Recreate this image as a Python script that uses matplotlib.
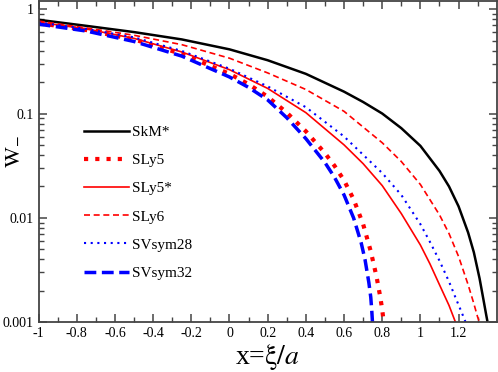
import numpy as np, matplotlib
matplotlib.use("Agg"); import matplotlib.pyplot as plt
from matplotlib.ticker import FixedLocator, LogLocator, NullFormatter

plt.rcParams['font.family'] = ['Liberation Serif', 'DejaVu Serif']
plt.rcParams['mathtext.fontset'] = 'stix'
plt.rcParams['axes.unicode_minus'] = False

# values (x = xi/a, W_-)
skm_x = [-1, -0.75, -0.5, -0.25, 0, 0.2, 0.4, 0.6, 0.7, 0.8, 0.9, 1.0, 1.1, 1.15, 1.2, 1.25, 1.28, 1.31, 1.33, 1.345, 1.352]
skm_y = [0.791, 0.692, 0.603, 0.513, 0.412, 0.324, 0.240, 0.162, 0.129, 0.100, 0.0724, 0.049, 0.0282, 0.020,
         0.0129, 0.00724, 0.00468, 0.00263, 0.00166, 0.00117, 0.001]

sly6_x = [-1, -0.75, -0.5, -0.25, 0, 0.2, 0.4, 0.6, 0.8, 0.9, 1.0, 1.1, 1.15, 1.2, 1.25, 1.28, 1.3, 1.31]
sly6_y = [0.769, 0.661, 0.562, 0.457, 0.339, 0.245, 0.170, 0.105, 0.0525, 0.0347, 0.0209, 0.0107, 0.00708,
          0.00427, 0.00229, 0.00151, 0.00112, 0.001]

svs28_x = [-1, -0.75, -0.5, -0.25, 0, 0.2, 0.4, 0.6, 0.8, 0.9, 1.0, 1.05, 1.1, 1.15, 1.19, 1.215, 1.237]
svs28_y = [0.745, 0.646, 0.537, 0.398, 0.269, 0.182, 0.115, 0.0603, 0.0269, 0.0166, 0.00871, 0.00589, 0.00389,
           0.00245, 0.00162, 0.00126, 0.001]

sly5s_x = [-1, -0.75, -0.5, -0.25, 0, 0.2, 0.4, 0.6, 0.7, 0.8, 0.9, 1.0, 1.05, 1.1, 1.15, 1.184]
sly5s_y = [0.750, 0.646, 0.525, 0.389, 0.263, 0.174, 0.102, 0.0501, 0.0331, 0.0204, 0.011, 0.0055, 0.00363,
           0.00229, 0.00145, 0.001]

sly5_x = [-1, -0.75, -0.5, -0.25, 0, 0.1, 0.2, 0.3, 0.4, 0.5, 0.55, 0.6, 0.65, 0.7, 0.74, 0.77, 0.79, 0.8, 0.808]
sly5_y = [0.735, 0.631, 0.513, 0.372, 0.240, 0.191, 0.145, 0.102, 0.0676, 0.0417, 0.0316, 0.0229, 0.0151,
          0.00871, 0.00479, 0.00275, 0.00174, 0.00132, 0.001]

svs32_x = [-1, -0.75, -0.5, -0.25, 0, 0.1, 0.2, 0.3, 0.4, 0.5, 0.55, 0.6, 0.65, 0.69, 0.71, 0.73, 0.74, 0.745, 0.749]
svs32_y = [0.719, 0.617, 0.490, 0.355, 0.224, 0.178, 0.135, 0.0912, 0.0575, 0.0339, 0.0245, 0.0166, 0.010,
           0.00575, 0.00398, 0.0024, 0.00174, 0.00132, 0.001]

xticks = [-1, -0.8, -0.6, -0.4, -0.2, 0, 0.2, 0.4, 0.6, 0.8, 1, 1.2]
xtick_labels = ["-1", "-0.8", "-0.6", "-0.4", "-0.2", "0", "0.2", "0.4", "0.6", "0.8", "1", "1.2"]
yticks = [0.001, 0.01, 0.1, 1]
ytick_labels = ["0.001", "0.01", "0.1", "1"]

fig = plt.figure(figsize=(4.98, 3.72), dpi=100)
ax = fig.add_axes([0.0775, 0.1336, 0.92, 0.864])

ax.plot(skm_x, skm_y, color='black', lw=1.8, label='SkM*')
ax.plot(sly5_x, sly5_y, color='red', lw=3, ls=(0, (1, 1.7)), label='SLy5')
ax.plot(sly5s_x, sly5s_y, color='red', lw=1.2, label='SLy5*')
ax.plot(sly6_x, sly6_y, color='red', lw=1.2, ls=(0, (3.6, 2.2)), label='SLy6')
ax.plot(svs28_x, svs28_y, color='blue', lw=1.5, ls=(0, (1, 2.2)), label='SVsym28')
ax.plot(svs32_x, svs32_y, color='blue', lw=2.5, ls=(0, (3.4, 1.6)), label='SVsym32')

ax.set_yscale('log')
ax.set_xlim(-1, 1.4)
ax.set_ylim(0.001, 1.2)
ax.set_xticks(xticks)
ax.set_xticklabels(xtick_labels)
ax.xaxis.set_minor_locator(FixedLocator(np.arange(-0.9, 1.4, 0.2)))
ax.set_yticks(yticks)
ax.set_yticklabels(ytick_labels)
ax.yaxis.set_minor_locator(LogLocator(base=10, subs=np.arange(2, 10)))
ax.yaxis.set_minor_formatter(NullFormatter())
ax.tick_params(which='both', direction='in', top=True, right=True, labelsize=10, color='#444')
ax.tick_params(which='major', length=6, width=1.1)
ax.tick_params(which='minor', length=3.5, width=1.0)
for s in ax.spines.values():
    s.set_color('#444'); s.set_linewidth(1.3)

ax.set_xlabel(r'x=$\mathrm{\xi}/a$', fontsize=20, labelpad=1)
ax.set_ylabel(r'$\mathrm{W}_{-}$', fontsize=16)
ax.yaxis.set_label_coords(-0.036, 0.53)

ax.legend(loc='upper left', bbox_to_anchor=(0.085, 0.632), frameon=False, fontsize=11,
          handlelength=3.0, handletextpad=0.15, labelspacing=0.95, borderaxespad=0)

fig.savefig("out.png", dpi=100)
